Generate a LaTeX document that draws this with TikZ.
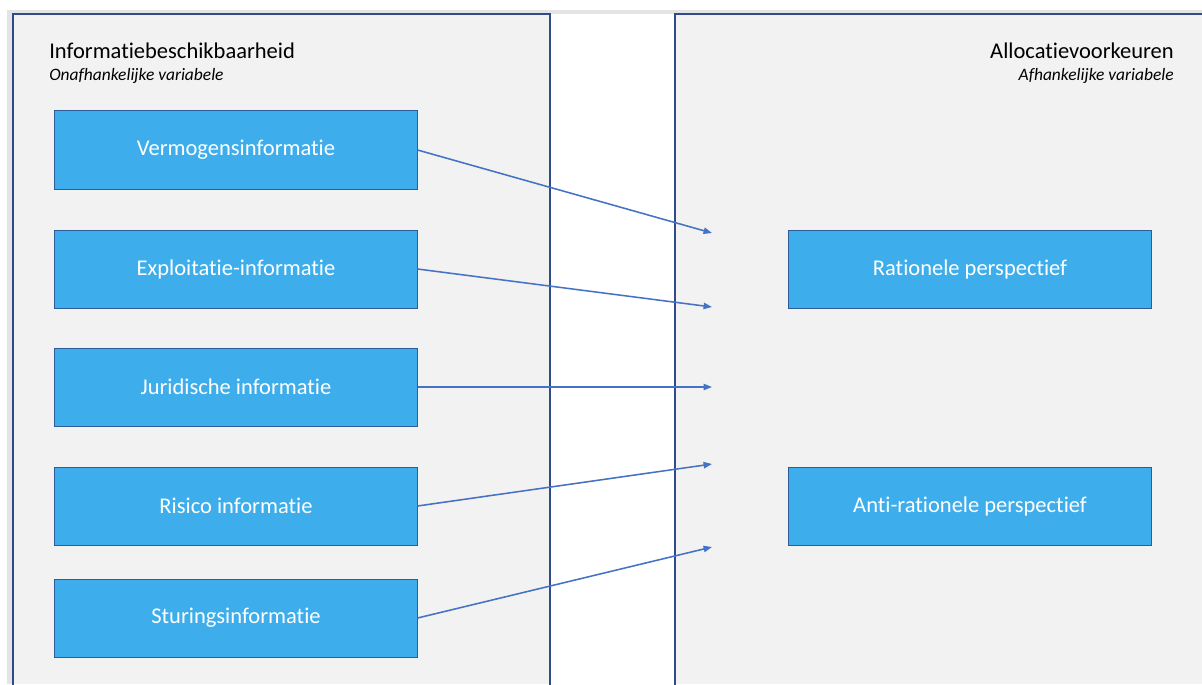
\documentclass[tikz,border=0pt]{standalone}
\usepackage{fontspec}
\setmainfont{Carlito}[Ligatures=NoCommon]
\usetikzlibrary{arrows.meta,positioning}
\definecolor{framegray}{HTML}{E4E4E4}
\definecolor{panelgray}{HTML}{F2F2F2}
\definecolor{paneledge}{HTML}{2F4B8C}
\definecolor{boxblue}{HTML}{3DAEEB}
\definecolor{boxedge}{HTML}{2E5C9A}
\definecolor{arrowblue}{HTML}{4472C4}
\begin{document}
\begin{tikzpicture}[x=0.025cm, y=-0.025cm,
    infobox/.style={draw=boxedge, fill=boxblue, line width=0.7pt, minimum width=9.05cm, minimum height=1.95cm,
        text=white, font=\fontsize{16}{19}\selectfont},
    paneledge/.style={draw=paneledge, line width=1pt},
    link/.style={draw=arrowblue, line width=1.1pt, -{Triangle[length=6pt,width=4.5pt]}}]
        \useasboundingbox (0,0) rectangle (1202,684);
        % Background and the two panels
        \fill[framegray] (7,10) rectangle (1202,684);
        \fill[panelgray] (13,14) rectangle (550,684);
        \fill[white] (550,14) rectangle (675,684);
        \fill[panelgray] (675,14) rectangle (1202,684);
        \draw[paneledge] (13,690) |- (550,14) -- (550,690);
        \draw[paneledge] (675,690) |- (1210,14);
        
        % Panel headings
        \node[anchor=base west, inner sep=0pt, font=\fontsize{16}{19}\selectfont] (indep) at (49,58) {Informatiebeschikbaarheid};
        \node[anchor=base west, inner sep=0pt, font=\fontsize{12.4}{14}\selectfont\itshape] (indepsub) at (49,80) {Onafhankelijke variabele};
        \node[anchor=base east, inner sep=0pt, font=\fontsize{16}{19}\selectfont] (dep) at (1174,58) {Allocatievoorkeuren};
        \node[anchor=base east, inner sep=0pt, font=\fontsize{12.4}{14}\selectfont\itshape] (depsub) at (1174,80) {Afhankelijke variabele};
        
        % Information boxes
        \node[infobox] (vermogen) at (236,150) {Vermogensinformatie};
        \node[infobox] (exploitatie) at (236,269) {Exploitatie-informatie};
        \node[infobox] (juridisch) at (236,387) {Juridische informatie};
        \node[infobox] (risico) at (236,506) {Risico informatie};
        \node[infobox] (sturing) at (236,618) {Sturingsinformatie};
        
        % Perspective boxes
        \node[infobox] (rationeel) at (970,269) {Rationele perspectief};
        \node[infobox] (antirationeel) at (970,506) {Anti-rationele perspectief};
        
        % Free arrow ends
        \coordinate (end1) at (712,233);
        \coordinate (end2) at (712,307);
        \coordinate (end3) at (712,387);
        \coordinate (end4) at (712,464);
        \coordinate (end5) at (712,547);
        
        \draw[link] (vermogen.east) -- (end1);
        \draw[link] (exploitatie.east) -- (end2);
        \draw[link] (juridisch.east) -- (end3);
        \draw[link] (risico.east) -- (end4);
        \draw[link] (sturing.east) -- (end5);
    \end{tikzpicture}
\end{document}
